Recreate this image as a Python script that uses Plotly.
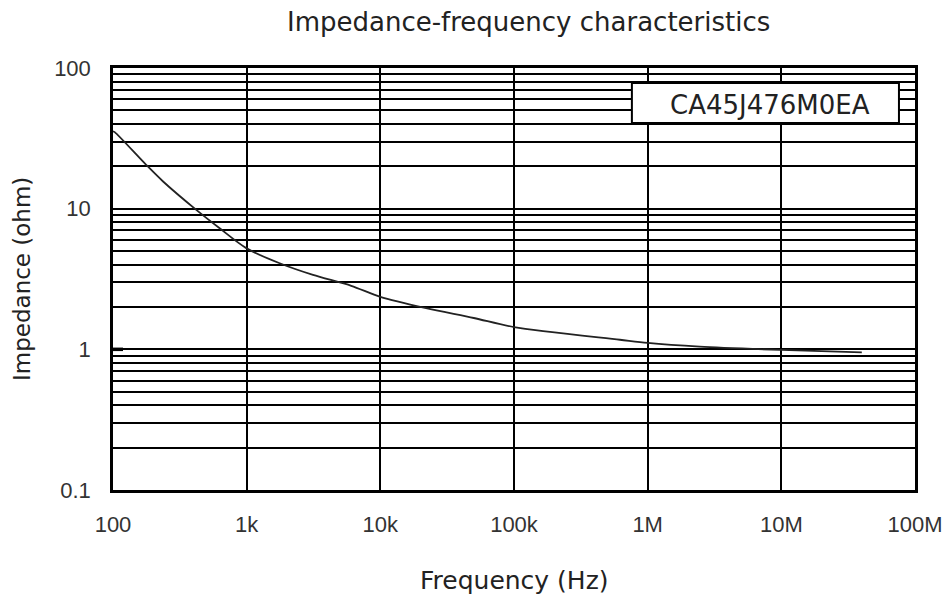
import plotly.graph_objects as go

freq_hz = [100, 103, 177, 237, 420, 628, 993, 1766, 3135, 6058, 10000, 22000,
           50000, 100000, 620000, 1000000, 2450000, 10000000, 40000000]
impedance_ohm = [35.5, 35.0, 20.5, 15.6, 9.8, 7.25, 5.24, 4.09, 3.38, 2.83, 2.36, 1.96,
                 1.67, 1.44, 1.17, 1.11, 1.045, 0.99, 0.95]

x_tickvals = [1e2, 1e3, 1e4, 1e5, 1e6, 1e7, 1e8]
x_ticktext = ["100", "1k", "10k", "100k", "1M", "10M", "100M"]
y_tickvals = [0.1, 1, 10, 100]
y_ticktext = ["0.1", "1", "10", "100"]

title_text = "Impedance-frequency characteristics"
x_title = "Frequency (Hz)"
y_title = "Impedance (ohm)"
legend_text = "CA45J476M0EA"

narrow = "Liberation Sans, Arial"
wide = "DejaVu Sans, Liberation Sans, Arial"

fig = go.Figure()
fig.add_trace(go.Scatter(
    x=freq_hz, y=impedance_ohm, mode="lines",
    line=dict(color="#222222", width=1.8, shape="spline", smoothing=0.8),
    showlegend=False, hoverinfo="skip",
))

fig.update_layout(
    width=945, height=600,
    margin=dict(l=113, r=30, t=68, b=110),
    paper_bgcolor="white", plot_bgcolor="white",
    showlegend=False,
    annotations=[
        dict(text=title_text, xref="paper", yref="paper", x=0.518, y=1,
             yshift=46, showarrow=False, xanchor="center", yanchor="middle",
             font=dict(family=wide, size=26, color="#222222")),
        dict(text=x_title, xref="paper", yref="paper", x=0.5, y=0,
             yshift=-90, showarrow=False, xanchor="center", yanchor="middle",
             font=dict(family=wide, size=25, color="#222222")),
        dict(text=y_title, xref="paper", yref="paper", x=0, y=0.5,
             xshift=-91, showarrow=False, xanchor="center", yanchor="middle",
             textangle=-90,
             font=dict(family=wide, size=23, color="#222222")),
        dict(text=legend_text, xref="paper", yref="paper", x=0.819, y=0.913,
             showarrow=False, xanchor="center", yanchor="middle",
             font=dict(family=wide, size=26, color="#222222")),
    ],
    shapes=[
        dict(type="rect", xref="paper", yref="paper", x0=0.647, x1=0.980,
             y0=0.8697, y1=0.9645, fillcolor="white",
             line=dict(color="black", width=2), layer="above"),
        dict(type="line", xref="paper", yref="y", x0=0, x1=0.0125, y0=1, y1=1,
             line=dict(color="black", width=3.5), layer="above"),
    ],
)

fig.update_xaxes(
    type="log", range=[2, 8], automargin=False,
    tickvals=x_tickvals, ticktext=x_ticktext,
    showgrid=True, gridcolor="black", gridwidth=2,
    showline=True, linecolor="black", linewidth=2.5, mirror=True,
    ticks="", ticklabelstandoff=13,
    tickfont=dict(family=narrow, size=22, color="#333333"),
    zeroline=False,
)
fig.update_yaxes(
    type="log", range=[-1, 2], automargin=False,
    tickvals=y_tickvals, ticktext=y_ticktext,
    showgrid=True, gridcolor="black", gridwidth=2,
    minor=dict(showgrid=True, gridcolor="black", gridwidth=2, dtick="D1"),
    showline=True, linecolor="black", linewidth=2.5, mirror=True,
    ticks="", ticklabelstandoff=15,
    tickfont=dict(family=narrow, size=22, color="#333333"),
    zeroline=False,
)

fig.write_html(
    "out.html",
    config={"displayModeBar": False},
    post_script="document.body.style.margin='0';",
)
